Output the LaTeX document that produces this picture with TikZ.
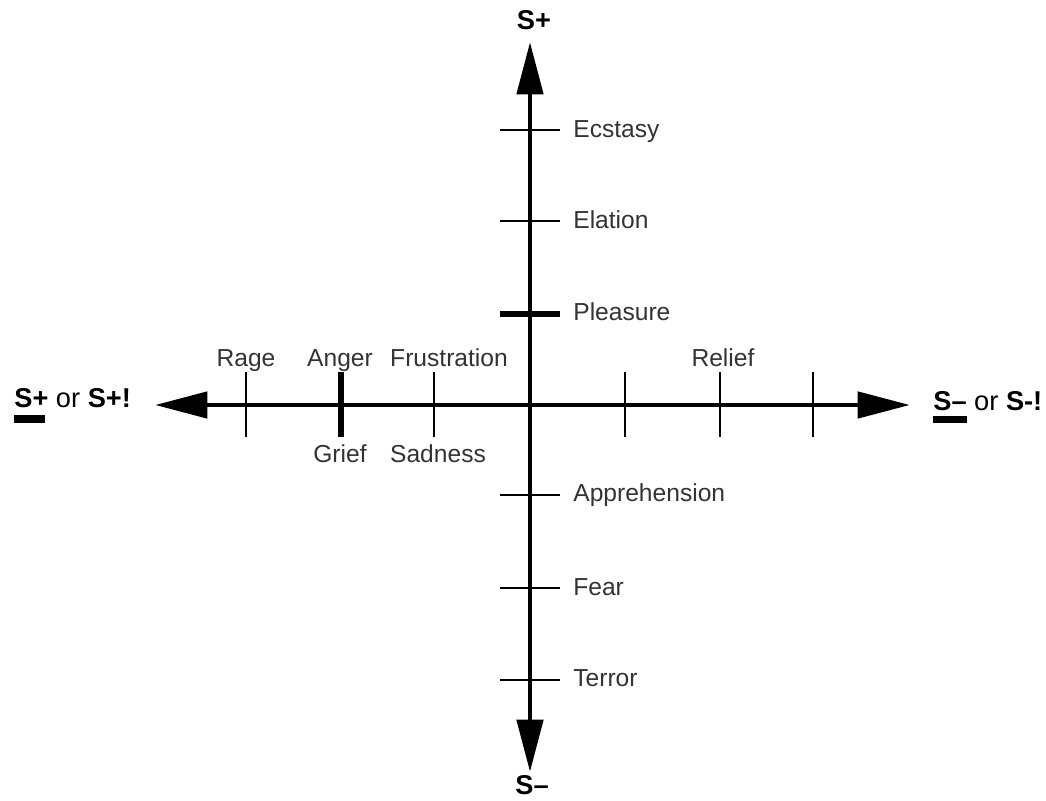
\documentclass[tikz,border=0pt]{standalone}
\usepackage{fontspec}
\setmainfont{Liberation Sans}
\usetikzlibrary{arrows.meta,positioning}

\begin{document}
\begin{tikzpicture}[x=0.02cm, y=-0.02cm,
  axis/.style={line width=2.8pt, {Triangle[length=1.05cm, width=0.52cm]}-{Triangle[length=1.05cm, width=0.52cm]}},
  tickmark/.style={line width=1.6pt},
  majortick/.style={line width=3.2pt},
  lbl/.style={font=\fontsize{14}{16}\selectfont, text=black!80, inner sep=0pt},
  pole/.style={font=\fontsize{15.5}{18}\selectfont, inner sep=0pt}
]
  \useasboundingbox (0,0) rectangle (1046,801);

  %% Axes
  \coordinate (top) at (530,42);
  \coordinate (bottom) at (530,772);
  \coordinate (left) at (155,405);
  \coordinate (right) at (910,405);
  \draw[axis] (bottom) -- (top);
  \draw[axis] (right) -- (left);

  %% Poles
  \node[pole, anchor=base] (splus) at (534,30) {\textbf{S+}};
  \node[pole, anchor=base] (sminus) at (532,794) {\textbf{S–}};
  \node[pole, anchor=base west] (lpole) at (14,407) {\textbf{S+} or \textbf{S+!}};
  \node[pole, anchor=base west] (rpole) at (933,410) {\textbf{S–} or \textbf{S-!}};
  \fill (14,415) rectangle (45,423);
  \fill (933,416) rectangle (967,423);

  %% Vertical ticks
  \draw[tickmark]  (500,130) -- (560,130);
  \draw[tickmark]  (500,221) -- (560,221);
  \draw[majortick] (500,314) -- (560,314);
  \draw[tickmark]  (500,495) -- (560,495);
  \draw[tickmark]  (500,588) -- (560,588);
  \draw[tickmark]  (500,680) -- (560,680);

  \node[lbl, anchor=base west] (ecstasy) at (573,137) {Ecstasy};
  \node[lbl, anchor=base west] (elation) at (573,228) {Elation};
  \node[lbl, anchor=base west] (pleasure) at (573,320) {Pleasure};
  \node[lbl, anchor=base west] (apprehension) at (573,501) {Apprehension};
  \node[lbl, anchor=base west] (fear) at (573,595) {Fear};
  \node[lbl, anchor=base west] (terror) at (573,686) {Terror};

  %% Horizontal ticks
  \draw[tickmark]  (246,372) -- (246,437);
  \draw[majortick] (341,372) -- (341,437);
  \draw[tickmark]  (434,372) -- (434,437);
  \draw[tickmark]  (625,372) -- (625,437);
  \draw[tickmark]  (720,372) -- (720,437);
  \draw[tickmark]  (813,372) -- (813,437);

  \node[lbl, anchor=base] (rage) at (246,366) {Rage};
  \node[lbl, anchor=base] (anger) at (340,366) {Anger};
  \node[lbl, anchor=base] (frustration) at (449,366) {Frustration};
  \node[lbl, anchor=base] (relief) at (723,366) {Relief};
  \node[lbl, anchor=base] (grief) at (340,462) {Grief};
  \node[lbl, anchor=base] (sadness) at (438,462) {Sadness};
\end{tikzpicture}
\end{document}
